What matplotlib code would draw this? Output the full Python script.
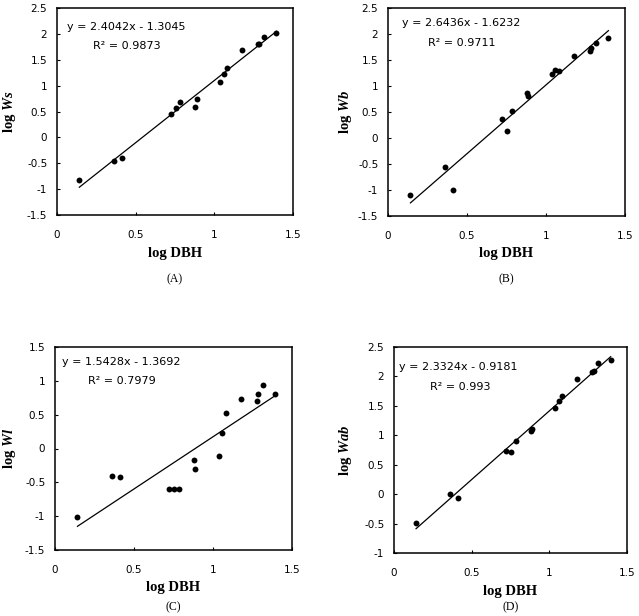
import matplotlib
matplotlib.use("Agg")
import matplotlib.pyplot as plt
import numpy as np

plt.rcParams["mathtext.fontset"] = "custom"
plt.rcParams["mathtext.rm"] = "Liberation Serif:bold"
plt.rcParams["mathtext.it"] = "Liberation Serif:bold:italic"
plt.rcParams["mathtext.bf"] = "Liberation Serif:bold"

# log DBH of the sampled trees (shared by all panels)
log_dbh = [0.142, 0.362, 0.414, 0.722, 0.754, 0.784, 0.880, 0.888,
           1.037, 1.060, 1.080, 1.178, 1.276, 1.286, 1.316, 1.395]

log_ws = [-0.83, -0.46, -0.40, 0.45, 0.56, 0.68, 0.58, 0.75,
          1.07, 1.23, 1.35, 1.68, 1.81, 1.81, 1.94, 2.01]
log_wb = [-1.10, -0.55, -1.00, 0.37, 0.14, 0.51, 0.87, 0.81,
          1.24, 1.31, 1.29, 1.58, 1.67, 1.73, 1.82, 1.92]
log_wl = [-1.01, -0.40, -0.42, -0.595, -0.595, -0.595, -0.17, -0.30,
          -0.11, 0.23, 0.53, 0.73, 0.70, 0.81, 0.94, 0.81]
log_wab = [-0.49, 0.00, -0.07, 0.74, 0.72, 0.91, 1.08, 1.10,
           1.47, 1.59, 1.66, 1.96, 2.07, 2.10, 2.22, 2.28]

slopes = [2.4042, 2.6436, 1.5428, 2.3324]
intercepts = [-1.3045, -1.6232, -1.3692, -0.9181]
r2_labels = ["0.9873", "0.9711", "0.7979", "0.993"]
ylabels = [r"log $Ws$", r"log $Wb$", r"log $Wl$", r"log $Wab$"]
panel_tags = ["(A)", "(B)", "(C)", "(D)"]
ylims = [(-1.5, 2.5), (-1.5, 2.5), (-1.5, 1.5), (-1.0, 2.5)]

fig = plt.figure(figsize=(6.39, 6.16), dpi=100)

# panel layout in pixels: left, right, top, bottom
boxes = [(57, 293, 8, 215), (388, 625, 8, 216),
         (55, 292, 347, 550), (394, 627, 347, 553)]
eq_pos = [((0.041, 0.91), (0.151, 0.816)), ((0.058, 0.926), (0.17, 0.833)),
          ((0.028, 0.927), (0.14, 0.833)), ((0.021, 0.904), (0.155, 0.807))]
ylabel_x = [10, 345, 10, 345]
tag_y = [279, 279, 607, 607]

W, H = 639, 616
series = [log_ws, log_wb, log_wl, log_wab]

for i, ys in enumerate(series):
    l, r, t, b = boxes[i]
    ax = fig.add_axes([l / W, (H - b) / H, (r - l) / W, (b - t) / H])
    ax.scatter(log_dbh, ys, s=18, color="black", zorder=3, linewidths=0)
    xs = np.array([min(log_dbh), max(log_dbh)])
    ax.plot(xs, slopes[i] * xs + intercepts[i], color="black", lw=0.9)
    ax.set_xlim(0, 1.5)
    ax.set_ylim(*ylims[i])
    ax.set_xticks([0, 0.5, 1, 1.5])
    ax.set_xticklabels(["0", "0.5", "1", "1.5"])
    lo, hi = ylims[i]
    yt = np.arange(lo, hi + 0.01, 0.5)
    ax.set_yticks(yt)
    ax.set_yticklabels(["%g" % v for v in yt])
    ax.tick_params(direction="in", length=2.5, width=0.8, labelsize=7.5)
    ax.tick_params(axis="x", pad=11)
    ax.tick_params(axis="y", pad=7)
    for sp in ax.spines.values():
        sp.set_linewidth(1.1)

    sign = "-" if intercepts[i] < 0 else "+"
    (ex, ey), (rx, ry) = eq_pos[i]
    ax.text(ex, ey, "y = %.4fx %s %.4f" % (slopes[i], sign, abs(intercepts[i])),
            transform=ax.transAxes, fontsize=8, va="center", ha="left")
    ax.text(rx, ry, "R² = " + r2_labels[i],
            transform=ax.transAxes, fontsize=8, va="center", ha="left")

    fig.text((l + r) / 2 / W, 1 - (b + 38) / H, "log DBH", ha="center", va="center",
             family="Liberation Serif", fontweight="bold", fontsize=10.5)
    fig.text(ylabel_x[i] / W, 1 - (t + b) / 2 / H, ylabels[i], rotation=90,
             ha="center", va="center", family="Liberation Serif",
             fontweight="bold", fontsize=10.5)
    fig.text((l + r) / 2 / W, 1 - tag_y[i] / H, panel_tags[i], ha="center",
             va="center", family="Liberation Serif", fontsize=8.5)

fig.savefig("out.png", dpi=100)
